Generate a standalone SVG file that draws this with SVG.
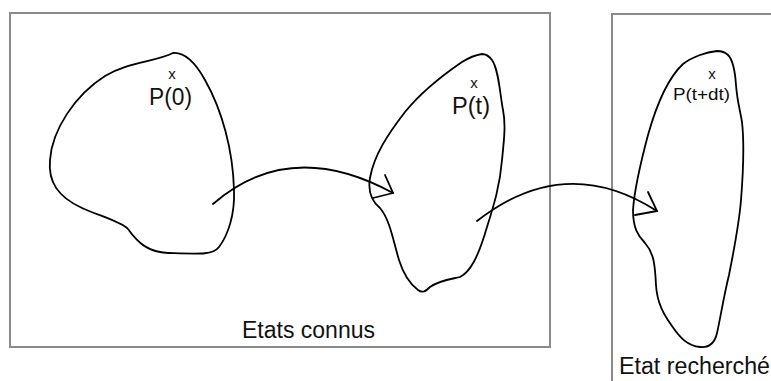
<svg xmlns="http://www.w3.org/2000/svg" width="771" height="381" viewBox="0 0 771 381">
<style>
.box{fill:none;stroke:#8a8a8a;stroke-width:2}
.blob{fill:none;stroke:#000;stroke-width:1.8;stroke-linejoin:round}
.arr{fill:none;stroke:#000;stroke-width:1.8;stroke-linecap:round;stroke-linejoin:miter}
text{font-family:"Liberation Sans",Arial,sans-serif;fill:#111}
.lbl{font-size:23px}
.mk{font-size:15px;text-anchor:middle}
</style>
<rect width="771" height="381" fill="#fff"/>
<g id="known-states">
<rect class="box" x="10" y="13" width="540" height="334"/>
<text class="lbl" x="242" y="338" textLength="133" lengthAdjust="spacingAndGlyphs">Etats connus</text>
</g>
<g id="target-state">
<path class="box" d="M612,381 L612,14 L771,14"/>
<text class="lbl" x="619" y="374" textLength="151" lengthAdjust="spacingAndGlyphs">Etat recherché</text>
</g>
<g id="P0">
<path class="blob" d="M173,53 C185,52 195,62 205,80 C222,110 233,150 234,190 C235,215 228,235 219,247 C213,255 200,254 168,253 C148,252 138,243 128,229 C122,222 100,216 82,208 C58,197 48,182 50,160 C52,130 75,95 105,76 C128,62 155,62 173,53 Z"/>
<text class="mk" x="172" y="79">x</text>
<text class="lbl" x="149" y="105" textLength="43" lengthAdjust="spacingAndGlyphs">P(0)</text>
</g>
<g id="Pt">
<path class="blob" d="M482,54 C476,55 470,57 462,62 C440,77 418,96 405,112 C388,134 374,155 370,178 C368,190 370,200 380,208 C390,220 393,240 399,260 C404,276 410,284 418,290 C422,293 425,292 430,287 C440,280 452,279 460,277 C470,272 478,258 487,227 C494,205 500,185 502,160 C504,140 506,125 503,110 C500,95 499,70 492,60 C489,56 486,54 482,54 Z"/>
<text class="mk" x="474" y="88">x</text>
<text class="lbl" x="452" y="114" textLength="38" lengthAdjust="spacingAndGlyphs">P(t)</text>
</g>
<g id="Ptdt">
<path class="blob" d="M717,51 C706,52 692,57 683,64 C668,78 657,103 648,135 C640,165 634,195 633,210 C633,228 638,236 645,243 C654,253 655,265 656,285 C657,303 664,315 672,326 C680,338 688,346 700,347 C710,348 715,342 717,333 C720,320 724,295 729,275 C734,250 739,225 741,200 C743,175 744,140 742,122 C740,110 737,100 736,85 C735,70 733,60 728,55 C725,52 721,51 717,51 Z"/>
<text class="mk" x="712" y="79">x</text>
<text x="673" y="100" font-size="17" textLength="57" lengthAdjust="spacingAndGlyphs">P(t+dt)</text>
</g>
<g id="connectors">
<path class="arr" d="M213,204 Q290,137 393,193"/>
<path class="arr" d="M385,175 L393,193 L373,198"/>
<path class="arr" d="M477,221 Q565,152 657,211"/>
<path class="arr" d="M648,192 L657,211 L635,215"/>
</g>
</svg>
